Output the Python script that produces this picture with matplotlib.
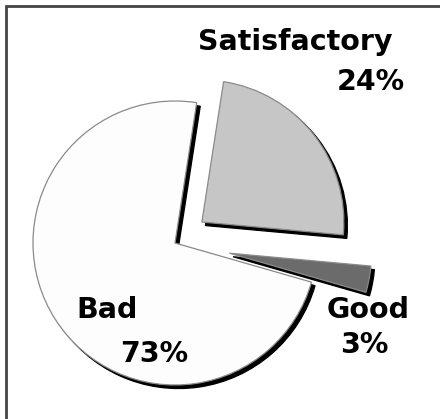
"""Exploded pie chart of rating shares (Good / Satisfactory / Bad)."""

import matplotlib

matplotlib.use("Agg")
import matplotlib.pyplot as plt
from matplotlib.patches import Rectangle

categories = ["Good", "Satisfactory", "Bad"]
shares = [3, 24, 73]
share_labels = ["3%", "24%", "73%"]
slice_colors = ["#6b6b6b", "#c6c6c6", "#fdfdfd"]
explode = [0.39, 0.24, 0.0]

W, H = 440, 419
PX_PER_UNIT = 142.0
CENTER_PX = (175, 243)  # pie centre, pixels from top-left


def main() -> None:
    fig = plt.figure(figsize=(W / 100, H / 100), dpi=100)
    fig.patch.set_facecolor("white")
    ax = fig.add_axes([0, 0, 1, 1])

    ax.pie(
        shares,
        colors=slice_colors,
        explode=explode,
        startangle=-16,
        counterclock=True,
        wedgeprops={"edgecolor": "#8a8a8a", "linewidth": 0.9},
        shadow={"ox": 0.018, "oy": -0.018, "shade": 1.0, "alpha": 1.0},
    )

    cx, cy = CENTER_PX
    ax.set_xlim(-cx / PX_PER_UNIT, (W - cx) / PX_PER_UNIT)
    ax.set_ylim(-(H - cy) / PX_PER_UNIT, cy / PX_PER_UNIT)
    ax.set_aspect("auto")
    ax.axis("off")

    # labels placed like the original (name and share as separate lines)
    text_kw = dict(fontsize=20.5, fontweight="bold", color="#000000",
                   family="DejaVu Sans", transform=ax.transAxes,
                   ha="center", va="baseline")
    ax.text(295 / W, 1 - 50 / H, categories[1], **text_kw)
    ax.text(371 / W, 1 - 90 / H, share_labels[1], **text_kw)
    ax.text(107 / W, 1 - 318 / H, categories[2], **text_kw)
    ax.text(154 / W, 1 - 362 / H, share_labels[2], **text_kw)
    ax.text(368 / W, 1 - 318 / H, categories[0], **text_kw)
    ax.text(364 / W, 1 - 353 / H, share_labels[0], **text_kw)

    # frame: only top and left edges fall inside the picture
    frame = Rectangle((5.5 / W, -0.05), 1.2, 1 - 6 / H + 0.05,
                      transform=fig.transFigure, fill=False,
                      edgecolor="#444444", linewidth=2.0, clip_on=False)
    fig.add_artist(frame)

    fig.savefig("out.png", dpi=100, facecolor="white")
    plt.close(fig)


if __name__ == "__main__":
    main()
